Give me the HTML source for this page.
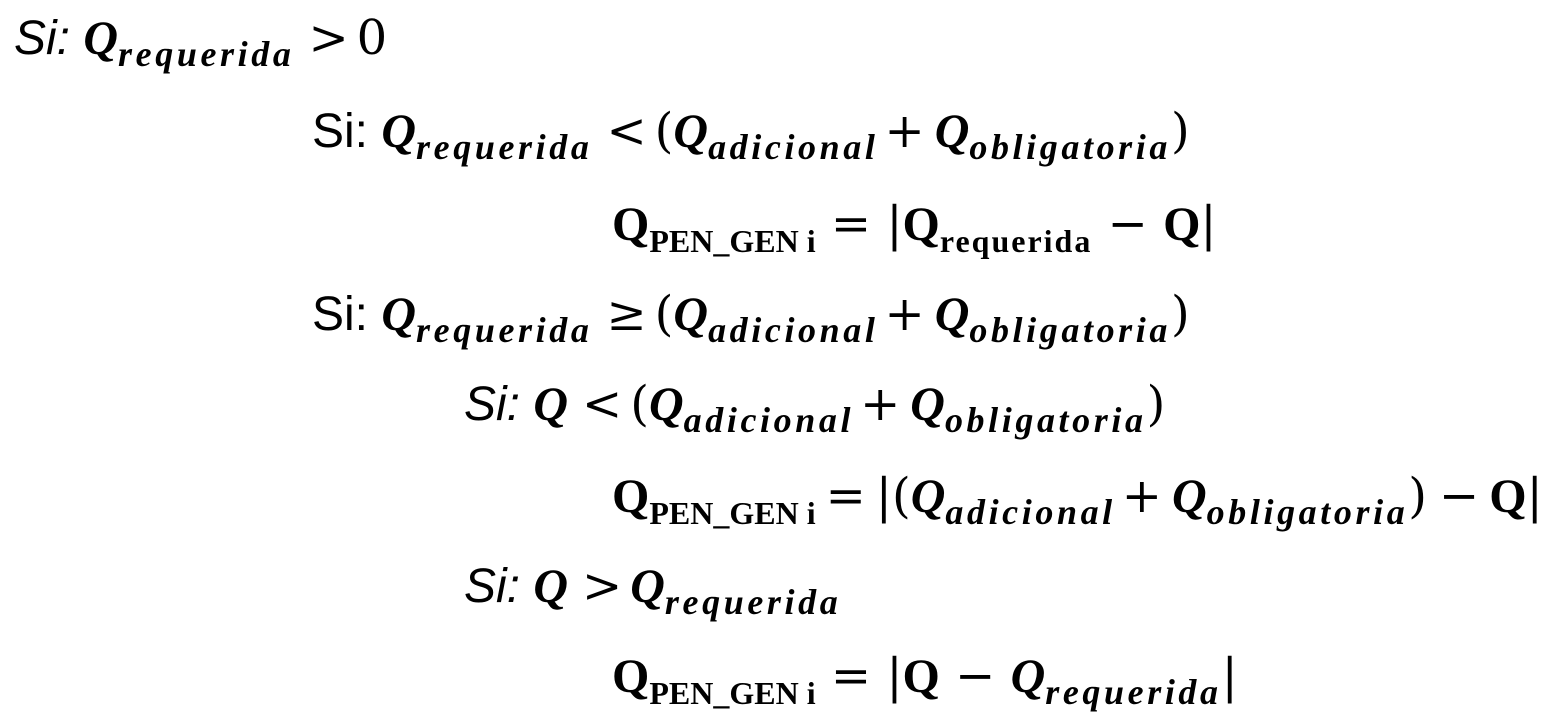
<!DOCTYPE html>
<html><head><meta charset="utf-8"><style>
html,body{margin:0;padding:0;background:#fff;}
body{width:1556px;height:727px;position:relative;overflow:hidden;}
.l{position:absolute;white-space:nowrap;font-size:48px;line-height:1;color:#000;}
.s{font-family:"Liberation Sans",sans-serif;}
.it{font-style:italic;}
.m{font-family:"Liberation Serif",serif;font-weight:bold;font-style:italic;}
.m sub{font-size:36px;letter-spacing:3.6px;}
.r{font-family:"Liberation Serif",serif;font-weight:bold;font-style:normal;}
.r sub.w{letter-spacing:2px;}
.o{font-family:"DejaVu Serif","Liberation Serif",serif;font-weight:normal;font-style:normal;}
.op{display:inline-block;margin:0 8px 0 14px;}
.op2{display:inline-block;margin:0 10px 0 6px;}
sub{font-size:32px;vertical-align:-12px;line-height:0;}
</style></head><body>
<div class="l" style="left:14px;top:14px"><span class="s it">Si: </span><span class="m">Q<sub>requerida</sub></span><span class="o op">&gt;</span><span class="o">0</span></div>
<div class="l" style="left:312px;top:107px"><span class="s">Si: </span><span class="m">Q<sub>requerida</sub></span><span class="o op">&lt;</span><span class="o">(</span><span class="m">Q<sub>adicional</sub></span><span class="o op2">+</span><span class="m">Q<sub>obligatoria</sub></span><span class="o">)</span></div>
<div class="l" style="left:612px;top:200px"><span class="r">Q<sub>PEN_GEN i</sub></span><span class="o"> = |</span><span class="r">Q<sub class="w">requerida</sub></span><span class="o"> &minus; </span><span class="r">Q</span><span class="o">|</span></div>
<div class="l" style="left:312px;top:290px"><span class="s">Si: </span><span class="m">Q<sub>requerida</sub></span><span class="o op">&ge;</span><span class="o">(</span><span class="m">Q<sub>adicional</sub></span><span class="o op2">+</span><span class="m">Q<sub>obligatoria</sub></span><span class="o">)</span></div>
<div class="l" style="left:464px;top:380px"><span class="s it">Si: </span><span class="m">Q</span><span class="o op">&lt;</span><span class="o">(</span><span class="m">Q<sub>adicional</sub></span><span class="o op2">+</span><span class="m">Q<sub>obligatoria</sub></span><span class="o">)</span></div>
<div class="l" style="left:612px;top:472px"><span class="r">Q<sub>PEN_GEN i</sub></span><span class="o op2" style="margin-left:10px">=</span><span class="o">|(</span><span class="m">Q<sub>adicional</sub></span><span class="o op2">+</span><span class="m">Q<sub>obligatoria</sub></span><span class="o">)</span><span class="o op2" style="margin-left:12px">&minus;</span><span class="r">Q</span><span class="o">|</span></div>
<div class="l" style="left:464px;top:562px"><span class="s it">Si: </span><span class="m">Q</span><span class="o op">&gt;</span><span class="m">Q<sub>requerida</sub></span></div>
<div class="l" style="left:612px;top:652px"><span class="r">Q<sub>PEN_GEN i</sub></span><span class="o"> = |</span><span class="r">Q</span><span class="o"> &minus; </span><span class="m">Q<sub>requerida</sub></span><span class="o">|</span></div>
</body></html>
